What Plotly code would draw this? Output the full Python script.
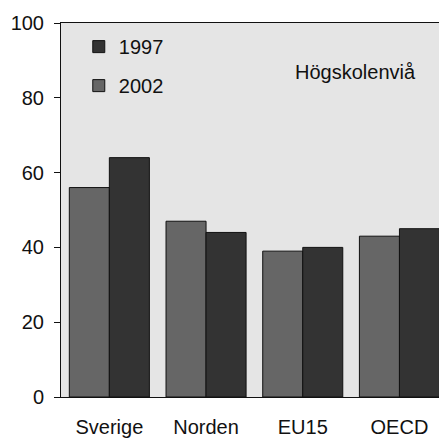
import plotly.graph_objects as go

categories = ["Sverige", "Norden", "EU15", "OECD"]
values_2002 = [56, 47, 39, 43]
values_1997 = [64, 44, 40, 45]
y_ticks = [0, 20, 40, 60, 80, 100]

FONT = "Liberation Sans, Arial, sans-serif"

fig = go.Figure()
fig.add_trace(go.Bar(name="2002", x=categories, y=values_2002, legendgroup="a", legendrank=2,
                     marker=dict(color="#666666", line=dict(color="#111111", width=1))))
fig.add_trace(go.Bar(name="1997", x=categories, y=values_1997, legendgroup="b", legendrank=1,
                     marker=dict(color="#333333", line=dict(color="#111111", width=1))))

fig.add_annotation(text="Högskolenviå", xref="paper", yref="paper", x=0.78, y=0.87,
                   xanchor="center", yanchor="middle",
                   showarrow=False, font=dict(family=FONT, size=20, color="#111111"))

fig.update_layout(
    width=439, height=439,
    margin=dict(l=61, r=0, t=23, b=42),
    paper_bgcolor="white", plot_bgcolor="#e5e5e5",
    barmode="group", bargap=0.172, bargroupgap=0,
    font=dict(family=FONT, size=20, color="#111111"),
    showlegend=True,
    legend=dict(x=0.047, y=0.989, xanchor="left", yanchor="top",
                traceorder="grouped", tracegroupgap=10,
                bgcolor="rgba(0,0,0,0)", font=dict(size=20)),
    xaxis=dict(range=[-0.5, 3.409], showline=True, linecolor="#111111", linewidth=1,
               mirror=True, showgrid=False, ticks="", ticklabelstandoff=12),
    yaxis=dict(range=[0, 100], tickvals=y_ticks, showline=True, linecolor="#111111",
               linewidth=1, showgrid=False, zeroline=False, ticks="outside",
               ticklen=6, tickcolor="#111111", ticklabelstandoff=6),
)

fig.write_html(
    "out.html",
    config={"displayModeBar": False},
    post_script="document.body.style.margin='0';document.body.style.overflow='hidden';",
)
